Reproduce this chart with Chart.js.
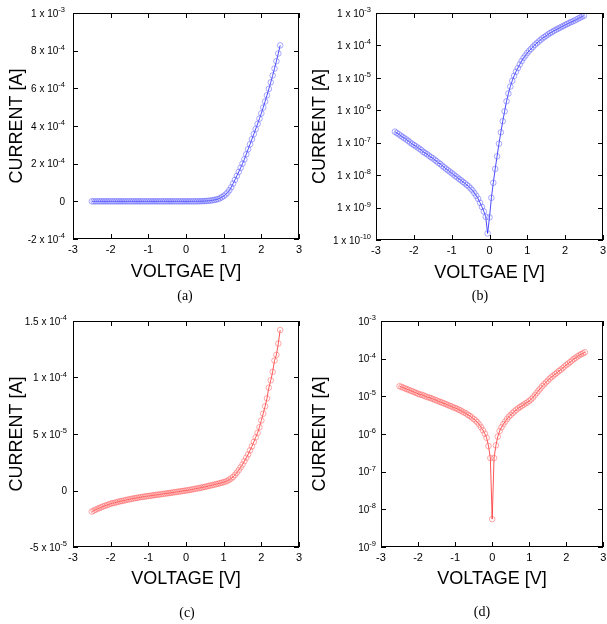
<!DOCTYPE html>
<html>
<head>
<meta charset="utf-8">
<script src="https://cdn.jsdelivr.net/npm/chart.js@4.4.1/dist/chart.umd.min.js"></script>
<style>
  html, body { margin: 0; padding: 0; background: #fff; }
  #wrap { position: relative; width: 607px; height: 624px; overflow: hidden; }
  canvas { position: absolute; }
</style>
</head>
<body>
<div id="wrap">
  <canvas id="pa" width="303" height="312" style="left:0;top:0"></canvas>
  <canvas id="pb" width="304" height="312" style="left:303px;top:0"></canvas>
  <canvas id="pc" width="303" height="312" style="left:0;top:312px"></canvas>
  <canvas id="pd" width="304" height="312" style="left:303px;top:312px"></canvas>
</div>
<script>
// sweep voltage, same for all four panels
const voltage = [-2.5, -2.45, -2.4, -2.35, -2.3, -2.25, -2.2, -2.15, -2.1, -2.05,
  -2, -1.95, -1.9, -1.85, -1.8, -1.75, -1.7, -1.65, -1.6, -1.55,
  -1.5, -1.45, -1.4, -1.35, -1.3, -1.25, -1.2, -1.15, -1.1, -1.05,
  -1, -0.95, -0.9, -0.85, -0.8, -0.75, -0.7, -0.65, -0.6, -0.55,
  -0.5, -0.45, -0.4, -0.35, -0.3, -0.25, -0.2, -0.15, -0.1, -0.05,
  0,
  0.05, 0.1, 0.15, 0.2, 0.25, 0.3, 0.35, 0.4, 0.45, 0.5,
  0.55, 0.6, 0.65, 0.7, 0.75, 0.8, 0.85, 0.9, 0.95, 1,
  1.05, 1.1, 1.15, 1.2, 1.25, 1.3, 1.35, 1.4, 1.45, 1.5,
  1.55, 1.6, 1.65, 1.7, 1.75, 1.8, 1.85, 1.9, 1.95, 2,
  2.05, 2.1, 2.15, 2.2, 2.25, 2.3, 2.35, 2.4, 2.45, 2.5];

// (a) linear current [A]
const currentA = [0, 0, 0, 0, 0, 0, 0, 0, 0, 0,
  0, 0, 0, 0, 0, 0, 0, 0, 0, 0,
  0, 0, 0, 0, 0, 0, 0, 0, 0, 0,
  0, 0, 0, 0, 0, 0, 0, 0, 0, 0,
  0, 0, 0, 0, 0, 0, 0, 0, 0, 0,
  0,
  0, 0, 0, 0, 1e-7, 2e-7, 4e-7, 7e-7, 1.0e-6, 1.5e-6,
  2.2e-6, 3.0e-6, 4.0e-6, 5.5e-6, 7.5e-6, 9.5e-6, 1.2e-5, 1.6e-5, 2.2e-5, 2.8e-5,
  3.6e-5, 4.6e-5, 5.9e-5, 7.5e-5, 9.4e-5, 1.14e-4, 1.35e-4, 1.56e-4, 1.78e-4, 2.0e-4,
  2.23e-4, 2.5e-4, 2.77e-4, 3.03e-4, 3.3e-4, 3.57e-4, 3.84e-4, 4.11e-4, 4.39e-4, 4.67e-4,
  4.98e-4, 5.3e-4, 5.63e-4, 5.97e-4, 6.32e-4, 6.68e-4, 7.05e-4, 7.44e-4, 7.85e-4, 8.28e-4];

// (b) |current| on log axis
const currentB = [2.19e-7, 2.0e-7, 1.82e-7, 1.66e-7, 1.51e-7, 1.38e-7, 1.26e-7, 1.15e-7, 1.02e-7, 9.3e-8,
  8.5e-8, 7.8e-8, 7.1e-8, 6.5e-8, 5.9e-8, 5.2e-8, 4.8e-8, 4.4e-8, 4.0e-8, 3.6e-8,
  3.3e-8, 3.0e-8, 2.7e-8, 2.4e-8, 2.2e-8, 1.95e-8, 1.74e-8, 1.58e-8, 1.41e-8, 1.29e-8,
  1.15e-8, 1.05e-8, 9.3e-9, 8.5e-9, 7.6e-9, 6.9e-9, 6.2e-9, 5.6e-9, 5.0e-9, 4.5e-9,
  3.9e-9, 3.4e-9, 2.8e-9, 2.3e-9, 1.86e-9, 1.41e-9, 1.05e-9, 7.6e-10, 5.2e-10, 1.6e-10,
  5.0e-10,
  2.0e-9, 5.8e-9, 1.55e-8, 3.8e-8, 9.3e-8, 2.1e-7, 4.6e-7, 9.3e-7, 1.9e-6, 3.3e-6,
  5.4e-6, 8.1e-6, 1.15e-5, 1.55e-5, 2.0e-5, 2.6e-5, 3.3e-5, 4.1e-5, 4.9e-5, 5.9e-5,
  6.9e-5, 7.9e-5, 9.1e-5, 1.05e-4, 1.17e-4, 1.32e-4, 1.48e-4, 1.66e-4, 1.82e-4, 2.0e-4,
  2.19e-4, 2.4e-4, 2.57e-4, 2.82e-4, 3.02e-4, 3.24e-4, 3.47e-4, 3.72e-4, 3.98e-4, 4.27e-4,
  4.57e-4, 4.9e-4, 5.25e-4, 5.5e-4, 5.89e-4, 6.31e-4, 6.76e-4, 7.24e-4, 7.76e-4, 8.3e-4];

// (c) linear current [A]
const currentC = [-1.86e-5, -1.78e-5, -1.70e-5, -1.62e-5, -1.55e-5, -1.48e-5, -1.41e-5, -1.35e-5, -1.29e-5, -1.23e-5,
  -1.17e-5, -1.12e-5, -1.10e-5, -1.05e-5, -1.0e-5, -9.5e-6, -9.3e-6, -8.9e-6, -8.5e-6, -8.1e-6,
  -7.8e-6, -7.4e-6, -7.1e-6, -6.8e-6, -6.5e-6, -6.2e-6, -5.9e-6, -5.6e-6, -5.4e-6, -5.1e-6,
  -4.9e-6, -4.7e-6, -4.4e-6, -4.2e-6, -3.9e-6, -3.7e-6, -3.5e-6, -3.2e-6, -3.0e-6, -2.75e-6,
  -2.5e-6, -2.3e-6, -2.05e-6, -1.78e-6, -1.51e-6, -1.26e-6, -1.02e-6, -7.9e-7, -4.8e-7, -2.3e-7,
  0,
  2.3e-7, 5.0e-7, 8.5e-7, 1.2e-6, 1.51e-6, 1.82e-6, 2.14e-6, 2.5e-6, 2.9e-6, 3.2e-6,
  3.6e-6, 4.0e-6, 4.4e-6, 4.8e-6, 5.2e-6, 5.6e-6, 6.0e-6, 6.5e-6, 6.9e-6, 7.4e-6,
  7.9e-6, 8.6e-6, 9.5e-6, 1.06e-5, 1.2e-5, 1.38e-5, 1.58e-5, 1.8e-5, 2.05e-5, 2.3e-5,
  2.6e-5, 2.9e-5, 3.2e-5, 3.55e-5, 3.9e-5, 4.3e-5, 4.7e-5, 5.1e-5, 5.6e-5, 6.2e-5,
  6.8e-5, 7.45e-5, 8.15e-5, 9.1e-5, 9.75e-5, 1.05e-4, 1.15e-4, 1.2e-4, 1.3e-4, 1.42e-4];

// (d) |current| on log axis
const currentD = [1.86e-5, 1.78e-5, 1.70e-5, 1.62e-5, 1.55e-5, 1.48e-5, 1.41e-5, 1.35e-5, 1.29e-5, 1.23e-5,
  1.17e-5, 1.12e-5, 1.10e-5, 1.05e-5, 1.0e-5, 9.5e-6, 9.3e-6, 8.9e-6, 8.5e-6, 8.1e-6,
  7.8e-6, 7.4e-6, 7.1e-6, 6.8e-6, 6.5e-6, 6.2e-6, 5.9e-6, 5.6e-6, 5.4e-6, 5.1e-6,
  4.9e-6, 4.7e-6, 4.4e-6, 4.2e-6, 3.9e-6, 3.7e-6, 3.5e-6, 3.2e-6, 3.0e-6, 2.75e-6,
  2.5e-6, 2.3e-6, 2.05e-6, 1.78e-6, 1.51e-6, 1.26e-6, 1.02e-6, 7.9e-7, 4.8e-7, 2.3e-7,
  5.5e-9,
  2.3e-7, 5.0e-7, 8.5e-7, 1.2e-6, 1.51e-6, 1.82e-6, 2.14e-6, 2.5e-6, 2.9e-6, 3.2e-6,
  3.6e-6, 4.0e-6, 4.4e-6, 4.8e-6, 5.2e-6, 5.6e-6, 6.0e-6, 6.5e-6, 6.9e-6, 7.6e-6,
  8.3e-6, 9.3e-6, 1.07e-5, 1.23e-5, 1.41e-5, 1.62e-5, 1.86e-5, 2.1e-5, 2.35e-5, 2.6e-5,
  2.95e-5, 3.25e-5, 3.55e-5, 3.9e-5, 4.25e-5, 4.7e-5, 5.1e-5, 5.6e-5, 6.2e-5, 6.8e-5,
  7.4e-5, 8.1e-5, 8.9e-5, 9.8e-5, 1.05e-4, 1.15e-4, 1.23e-4, 1.32e-4, 1.38e-4, 1.48e-4];

// tick values and their labels (mantissa, exponent)
const xTickVals = [-3, -2, -1, 0, 1, 2, 3];
const yTickValsA = [-2e-4, 0, 2e-4, 4e-4, 6e-4, 8e-4, 1e-3];
const yTickTextA = [['-2 x 10', '-4'], ['0', ''], ['2 x 10', '-4'], ['4 x 10', '-4'], ['6 x 10', '-4'], ['8 x 10', '-4'], ['1 x 10', '-3']];
const yTickValsB = [1e-10, 1e-9, 1e-8, 1e-7, 1e-6, 1e-5, 1e-4, 1e-3];
const yTickTextB = [['1 x 10', '-10'], ['1 x 10', '-9'], ['1 x 10', '-8'], ['1 x 10', '-7'], ['1 x 10', '-6'], ['1 x 10', '-5'], ['1 x 10', '-4'], ['1 x 10', '-3']];
const yTickValsC = [-5e-5, 0, 5e-5, 1e-4, 1.5e-4];
const yTickTextC = [['-5 x 10', '-5'], ['0', ''], ['5 x 10', '-5'], ['1 x 10', '-4'], ['1.5 x 10', '-4']];
const yTickValsD = [1e-9, 1e-8, 1e-7, 1e-6, 1e-5, 1e-4, 1e-3];
const yTickTextD = [['10', '-9'], ['10', '-8'], ['10', '-7'], ['10', '-6'], ['10', '-5'], ['10', '-4'], ['10', '-3']];

const SANS = '"Liberation Sans", Arial, sans-serif';
const SERIF = '"Liberation Serif", "Times New Roman", serif';

// gnuplot-like frame: border, inward ticks on all sides, labels with exponents, titles
function makeFrame(cfg) {
  return {
    id: 'frame_' + cfg.tag,
    afterDraw(chart) {
      const { ctx, chartArea: a, scales } = chart;
      const sx = scales.x, sy = scales.y;
      const L = Math.round(a.left), R = Math.round(a.right), T = Math.round(a.top), B = Math.round(a.bottom);
      ctx.save();
      ctx.strokeStyle = '#000';
      ctx.fillStyle = '#000';
      ctx.lineWidth = 1;
      ctx.strokeRect(L + 0.5, T + 0.5, R - L - 1, B - T - 1);

      ctx.beginPath();
      xTickVals.forEach(v => {
        const px = Math.round(sx.getPixelForValue(v)) + 0.5;
        ctx.moveTo(px, B); ctx.lineTo(px, B - 5);
        ctx.moveTo(px, T); ctx.lineTo(px, T + 5);
      });
      cfg.yVals.forEach(v => {
        const py = Math.round(sy.getPixelForValue(v)) + 0.5;
        ctx.moveTo(L, py); ctx.lineTo(L + 5, py);
        ctx.moveTo(R, py); ctx.lineTo(R - 5, py);
      });
      ctx.stroke();

      // x tick labels
      ctx.font = '11px ' + SANS;
      ctx.textAlign = 'center';
      ctx.textBaseline = 'top';
      xTickVals.forEach(v => {
        ctx.fillText(String(v), sx.getPixelForValue(v), B + 5);
      });

      // y tick labels, mantissa + raised exponent
      const xr = L - cfg.gap;
      cfg.yVals.forEach((v, i) => {
        const py = sy.getPixelForValue(v);
        const [m, e] = cfg.yText[i];
        ctx.textBaseline = 'middle';
        let ew = 0;
        if (e) {
          ctx.font = '7.5px ' + SANS;
          ew = ctx.measureText(e).width;
          ctx.textAlign = 'left';
          ctx.fillText(e, xr - ew, py - 3);
        }
        ctx.font = '10px ' + SANS;
        ctx.textAlign = 'right';
        ctx.fillText(m, xr - ew, py + 1);
      });

      // axis titles
      ctx.font = '18px ' + SANS;
      ctx.textAlign = 'center';
      ctx.textBaseline = 'middle';
      ctx.fillText(cfg.xTitle, (L + R) / 2, cfg.xTitleY);
      ctx.save();
      ctx.translate(17, (T + B) / 2);
      ctx.rotate(-Math.PI / 2);
      ctx.fillText('CURRENT [A]', 0, 0);
      ctx.restore();

      // panel tag
      ctx.font = '14px ' + SERIF;
      ctx.fillText('(' + cfg.tag + ')', cfg.tagX, cfg.tagY);
      ctx.restore();
    }
  };
}

function makeChart(id, current, cfg) {
  const pts = voltage.map((v, i) => ({ x: v, y: current[i] }));
  return new Chart(document.getElementById(id), {
    type: 'line',
    data: {
      datasets: [{
        data: pts,
        borderColor: cfg.line,
        borderWidth: 1,
        tension: 0,
        pointRadius: 2.8,
        pointBorderWidth: 0.8,
        pointBorderColor: cfg.mark,
        pointBackgroundColor: 'rgba(0,0,0,0)',
        pointHoverRadius: 2.8
      }]
    },
    options: {
      responsive: false,
      animation: false,
      devicePixelRatio: 1,
      layout: { padding: cfg.pad },
      plugins: { legend: { display: false }, tooltip: { enabled: false } },
      events: [],
      scales: {
        x: { type: 'linear', min: -3, max: 3, display: false },
        y: { type: cfg.yType, min: cfg.yMin, max: cfg.yMax, display: false }
      }
    },
    plugins: [makeFrame(cfg)]
  });
}

const BLUE_LINE = 'rgba(30,30,255,0.8)', BLUE_MARK = 'rgba(100,100,255,0.7)';
const RED_LINE = 'rgba(255,30,30,0.75)', RED_MARK = 'rgba(255,100,100,0.7)';

makeChart('pa', currentA, {
  tag: 'a', yType: 'linear', yMin: -2e-4, yMax: 1e-3, yVals: yTickValsA, yText: yTickTextA,
  pad: { left: 73, top: 13, right: 4, bottom: 73 }, gap: 8,
  xTitle: 'VOLTGAE [V]', xTitleY: 272, tagX: 185, tagY: 296, line: BLUE_LINE, mark: BLUE_MARK
});
makeChart('pb', currentB, {
  tag: 'b', yType: 'logarithmic', yMin: 1e-10, yMax: 1e-3, yVals: yTickValsB, yText: yTickTextB,
  pad: { left: 73, top: 13, right: 4, bottom: 72 }, gap: 5,
  xTitle: 'VOLTGAE [V]', xTitleY: 273, tagX: 177, tagY: 296, line: BLUE_LINE, mark: BLUE_MARK
});
makeChart('pc', currentC, {
  tag: 'c', yType: 'linear', yMin: -5e-5, yMax: 1.5e-4, yVals: yTickValsC, yText: yTickTextC,
  pad: { left: 73, top: 9, right: 4, bottom: 77 }, gap: 6,
  xTitle: 'VOLTAGE [V]', xTitleY: 267, tagX: 187, tagY: 301, line: RED_LINE, mark: RED_MARK
});
makeChart('pd', currentD, {
  tag: 'd', yType: 'logarithmic', yMin: 1e-9, yMax: 1e-3, yVals: yTickValsD, yText: yTickTextD,
  pad: { left: 78, top: 9, right: 0, bottom: 77 }, gap: 5,
  xTitle: 'VOLTAGE [V]', xTitleY: 267, tagX: 179, tagY: 300, line: RED_LINE, mark: RED_MARK
});
</script>
</body>
</html>
